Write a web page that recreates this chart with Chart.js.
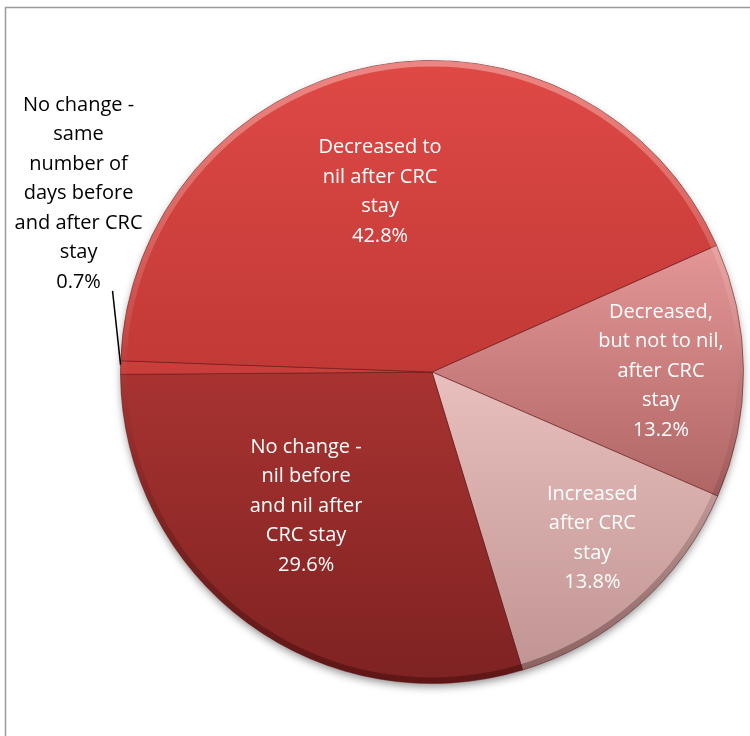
<!DOCTYPE html>
<html>
<head>
<meta charset="utf-8">
<script src="https://cdn.jsdelivr.net/npm/chart.js@4/dist/chart.umd.min.js"></script>
<style>
  html, body { margin: 0; padding: 0; background: #ffffff; }
  #wrap { width: 750px; height: 736px; position: relative; }
</style>
</head>
<body>
<div id="wrap"><canvas id="pie" width="750" height="736"></canvas></div>
<script>
// Change in days after a CRC stay (share of people, %)
const categories = [
  'Decreased, but not to nil, after CRC stay',
  'Increased after CRC stay',
  'No change - nil before and nil after CRC stay',
  'No change - same number of days before and after CRC stay',
  'Decreased to nil after CRC stay'
];
const labelLines = [
  ['Decreased,', 'but not to nil,', 'after CRC', 'stay'],
  ['Increased', 'after CRC', 'stay'],
  ['No change -', 'nil before', 'and nil after', 'CRC stay'],
  ['No change -', 'same', 'number of', 'days before', 'and after CRC', 'stay'],
  ['Decreased to', 'nil after CRC', 'stay']
];
const shares = [13.2, 13.8, 29.6, 0.7, 42.8];

// vertical shading stops for each slice (fraction of pie height, colour)
const sliceShades = [
  [[0.30, '#E39695'], [0.70, '#B06565']],
  [[0.45, '#EDC4C3'], [1.00, '#BE9291']],
  [[0.45, '#AC3532'], [1.00, '#7E2222']],
  [[0.40, '#D4433F'], [0.60, '#BE3835']],
  [[0.00, '#DF4946'], [0.50, '#C13936']]
];

// label placement: radial fraction and pixel nudge; -1 = outside with leader line
const labelPlace = [
  { r: 0.735, dx: 0, dy: 0 },
  { r: 0.74, dx: 7, dy: -6 },
  { r: 0.59, dx: -17, dy: -14 },
  { r: -1, dx: -42, dy: -174 },
  { r: 0.59, dx: -17, dy: 0 }
];

const FONT = '20px "Open Sans", Lato, sans-serif';
const LINE_H = 29.5;

function shade(ctx) {
  const chart = ctx.chart;
  const area = chart.chartArea;
  if (!area) return '#C8403D';
  const stops = sliceShades[ctx.dataIndex];
  const g = chart.ctx.createLinearGradient(0, area.top, 0, area.bottom);
  stops.forEach(s => g.addColorStop(s[0], s[1]));
  return g;
}

const framePlugin = {
  id: 'frame',
  beforeDraw(chart) {
    const c = chart.ctx;
    c.save();
    c.strokeStyle = '#9a9a9a';
    c.lineWidth = 1.5;
    c.strokeRect(5.5, 7.5, 900, 900);
    c.restore();
  }
};

const shadowPlugin = {
  id: 'pieShadow',
  beforeDatasetsDraw(chart) {
    const arc = chart.getDatasetMeta(0).data[0];
    if (!arc) return;
    const c = chart.ctx;
    c.save();
    c.shadowColor = 'rgba(0,0,0,0.45)';
    c.shadowBlur = 9;
    c.shadowOffsetY = 4;
    c.fillStyle = '#8a3030';
    c.beginPath();
    c.arc(arc.x, arc.y, arc.outerRadius - 1, 0, Math.PI * 2);
    c.fill();
    c.restore();
  },
  afterDatasetsDraw(chart) {
    // bevelled rim: light along the top, darker toward the bottom
    const arc = chart.getDatasetMeta(0).data[0];
    if (!arc) return;
    const c = chart.ctx;
    const R = arc.outerRadius;
    c.save();
    c.beginPath();
    c.arc(arc.x, arc.y, R, 0, Math.PI * 2);
    c.clip();
    const g = c.createLinearGradient(0, arc.y - R, 0, arc.y + R);
    g.addColorStop(0, 'rgba(255,210,205,0.45)');
    g.addColorStop(0.4, 'rgba(255,220,215,0.12)');
    g.addColorStop(0.6, 'rgba(0,0,0,0.05)');
    g.addColorStop(1, 'rgba(40,0,0,0.35)');
    c.strokeStyle = g;
    c.lineWidth = 6;
    c.beginPath();
    c.arc(arc.x, arc.y, R - 3, 0, Math.PI * 2);
    c.stroke();
    c.restore();
  }
};

const labelPlugin = {
  id: 'sliceLabels',
  afterDraw(chart) {
    const meta = chart.getDatasetMeta(0);
    const c = chart.ctx;
    c.save();
    c.font = FONT;
    c.textAlign = 'center';
    c.textBaseline = 'middle';
    meta.data.forEach((arc, i) => {
      const p = labelPlace[i];
      const mid = (arc.startAngle + arc.endAngle) / 2;
      const lines = labelLines[i].concat([shares[i].toFixed(1) + '%']);
      let cx, cy;
      if (p.r < 0) {
        const ex = arc.x + Math.cos(mid) * arc.outerRadius;
        const ey = arc.y + Math.sin(mid) * arc.outerRadius;
        cx = ex + p.dx;
        cy = ey + p.dy;
        const blockBottom = cy + (lines.length / 2) * LINE_H;
        c.strokeStyle = '#000';
        c.lineWidth = 1.5;
        c.beginPath();
        c.moveTo(ex - 8, blockBottom - 6);
        c.lineTo(ex, ey - 3);
        c.stroke();
        c.fillStyle = '#000';
      } else {
        const d = arc.outerRadius * p.r;
        cx = arc.x + Math.cos(mid) * d + p.dx;
        cy = arc.y + Math.sin(mid) * d + p.dy;
        c.fillStyle = '#ffffff';
      }
      const top = cy - (lines.length - 1) * LINE_H / 2;
      lines.forEach((t, k) => c.fillText(t, cx, top + k * LINE_H));
    });
    c.restore();
  }
};

new Chart(document.getElementById('pie'), {
  type: 'pie',
  data: {
    labels: categories,
    datasets: [{
      data: shares,
      backgroundColor: shade,
      borderColor: 'rgba(95,25,25,0.55)',
      borderWidth: 1
    }]
  },
  options: {
    responsive: false,
    animation: false,
    rotation: 66,
    layout: { padding: { left: 120, top: 60, right: 6, bottom: 52 } },
    plugins: {
      legend: { display: false },
      tooltip: { enabled: false }
    }
  },
  plugins: [framePlugin, shadowPlugin, labelPlugin]
});
</script>
</body>
</html>
